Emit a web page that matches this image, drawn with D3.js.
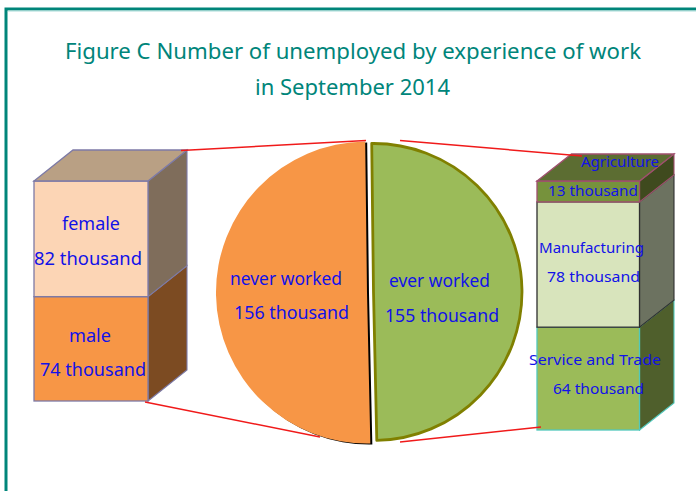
<!DOCTYPE html>
<html>
<head>
<meta charset="utf-8">
<script src="https://cdnjs.cloudflare.com/ajax/libs/d3/7.9.0/d3.min.js"></script>
<style>
html,body{margin:0;padding:0;background:#fff;overflow:hidden}
svg{display:block}
text{font-family:"Noto Sans",sans-serif}
</style>
</head>
<body>
<svg id="c" width="696" height="491"></svg>
<script>
// ---- data ----
const titleLines = ["Figure C Number of unemployed by experience of work", "in September 2014"];
const pieCategories = ["ever worked", "never worked"];
const pieValues = [155, 156];
const genderCategories = ["female", "male"];
const genderValues = [82, 74];
const sectorCategories = ["Agriculture", "Manufacturing", "Service and Trade"];
const sectorValues = [13, 78, 64];
const unit = "thousand";

// ---- layout (not data) ----
const W = 696, H = 491, blue = "#1212e8", red = "#f01a1a";
const svg = d3.select("#c").attr("viewBox", [0, 0, W, H]);

svg.append("path").attr("d", `M6,${H}V9H${W}`).attr("fill", "none").attr("stroke", "#00857a").attr("stroke-width", 3);
svg.append("path").attr("d", `M8,11H${W}`).attr("fill", "none").attr("stroke", "#a8dcd8").attr("stroke-width", 1);

const titleBox = [{x: 65, w: 576}, {x: 255, w: 195}];
svg.selectAll("text.title").data(titleLines).join("text").attr("class", "title")
  .attr("x", (d, i) => titleBox[i].x).attr("y", (d, i) => 59 + i * 36)
  .attr("textLength", (d, i) => titleBox[i].w).attr("lengthAdjust", "spacingAndGlyphs")
  .attr("font-size", 21.5).attr("fill", "#00857a").text(d => d);

// ---- pie ----
const pieStart = -0.012;
const pie = d3.pie().sort(null).startAngle(pieStart).endAngle(pieStart + 2 * Math.PI);
const slices = pie(pieValues);
const pieStyle = [
  {cx: 373.5, cy: 292, r: 148.5, fill: "#9bbb59", stroke: "#808000", sw: 2.8},
  {cx: 367, cy: 292.5, r: 151, fill: "#f79646", stroke: "none", sw: 0}
];
const arc = (s, r) => d3.arc().innerRadius(0).outerRadius(r)(s);
// black shadow under the orange slice
svg.append("path").attr("d", arc(slices[1], 151))
  .attr("transform", "translate(369,293.5)").attr("fill", "#000");
svg.selectAll("path.slice").data(slices).join("path").attr("class", "slice")
  .attr("d", (d, i) => arc(d, pieStyle[i].r))
  .attr("transform", (d, i) => `translate(${pieStyle[i].cx},${pieStyle[i].cy})`)
  .attr("fill", (d, i) => pieStyle[i].fill)
  .attr("stroke", (d, i) => pieStyle[i].stroke)
  .attr("stroke-width", (d, i) => pieStyle[i].sw)
  .attr("stroke-linejoin", "round");

// ---- 3D stacks ----
function stack(values, o) {
  const total = d3.sum(values);
  const y = d3.scaleLinear().domain([0, total]).range([o.y0, o.y1]);
  let acc = 0;
  return values.map((v, i) => {
    const seg = {value: v, i, y0: y(acc), y1: y(acc + v)};
    acc += v;
    return seg;
  });
}
function drawStack(values, o) {
  const segs = stack(values, o);
  const g = svg.append("g");
  const {x0, x1, dx, dy} = o;
  segs.slice().reverse().forEach(s => {
    const st = o.styles[s.i];
    g.append("path").attr("d", `M${x1},${s.y0}L${x1 + dx},${s.y0 - dy}V${s.y1 - dy}L${x1},${s.y1}Z`)
      .attr("fill", st.side).attr("stroke", st.stroke).attr("stroke-width", 1.1);
    g.append("rect").attr("x", x0).attr("y", s.y0).attr("width", x1 - x0).attr("height", s.y1 - s.y0)
      .attr("fill", st.front).attr("stroke", st.stroke).attr("stroke-width", st.sw || 1.3);
    if (s.i === 0) {
      g.append("path").attr("d", `M${x0},${s.y0}L${x0 + dx},${s.y0 - dy}H${x1 + dx}L${x1},${s.y0}Z`)
        .attr("fill", st.top).attr("stroke", st.stroke).attr("stroke-width", 1.3);
    }
  });
  return segs;
}
const leftO = {x0: 34, x1: 148, y0: 181, y1: 401, dx: 39, dy: 31, styles: [
  {front: "#fcd5b5", side: "#7f6d5b", top: "#b9a084", stroke: "#7d7aa6"},
  {front: "#f79646", side: "#7c4b22", stroke: "#7d7aa6"}
]};
const rightO = {x0: 537, x1: 639.5, y0: 181, y1: 430, dx: 34.5, dy: 27, styles: [
  {front: "#76923c", side: "#3f4a1e", top: "#5c6d32", stroke: "#a04f6e"},
  {front: "#d8e4bc", side: "#6c7260", stroke: "#2f2f2f"},
  {front: "#9bbb59", side: "#4f5f2c", stroke: "#52c8bc"}
]};

// ---- connectors: drawn beneath the labels, tied to stacks and pie ----
const pTop = pieStyle[0].cy - 151, pBot = pieStyle[0].cy + 150;
const connectors = [
  [[leftO.x1 + leftO.dx - 6, leftO.y0 - leftO.dy + 0.5], [366, pTop - 0.5]],
  [[leftO.x1 - 3, leftO.y1 + 1], [320, pBot - 5]],
  [[400, pTop - 0.5], [rightO.x0 + 45, rightO.y0 - rightO.dy + 2]],
  [[400, pBot], [rightO.x0 + 4, rightO.y1 - 3]]
];
drawStack(genderValues, leftO);
drawStack(sectorValues, rightO);
svg.selectAll("line.conn").data(connectors).join("line").attr("class", "conn")
  .attr("x1", d => d[0][0]).attr("y1", d => d[0][1]).attr("x2", d => d[1][0]).attr("y2", d => d[1][1])
  .attr("stroke", red).attr("stroke-width", 1.5);

// ---- labels ----
function label(str, x, y, w, size) {
  svg.append("text").attr("x", x).attr("y", y).attr("font-size", size).attr("fill", blue)
    .attr("textLength", w).attr("lengthAdjust", "spacingAndGlyphs").text(str);
}
const T = v => `${v} ${unit}`;
label(genderCategories[0], 62, 230, 58, 18);
label(T(genderValues[0]), 34, 265, 108, 18);
label(genderCategories[1], 69, 342, 42, 18);
label(T(genderValues[1]), 40, 376, 106, 18);
label(pieCategories[1], 230, 285, 112, 18);
label(T(pieValues[1]), 234, 319, 115, 18);
label(pieCategories[0], 389, 287, 101, 18);
label(T(pieValues[0]), 385, 322, 114, 18);
label(sectorCategories[0], 581, 167, 78, 15);
label(T(sectorValues[0]), 548, 196, 90, 15);
label(sectorCategories[1], 539, 253, 105, 15);
label(T(sectorValues[1]), 547, 282, 93, 15);
label(sectorCategories[2], 529, 365, 132, 15);
label(T(sectorValues[2]), 553, 394, 91, 15);
</script>
</body>
</html>
